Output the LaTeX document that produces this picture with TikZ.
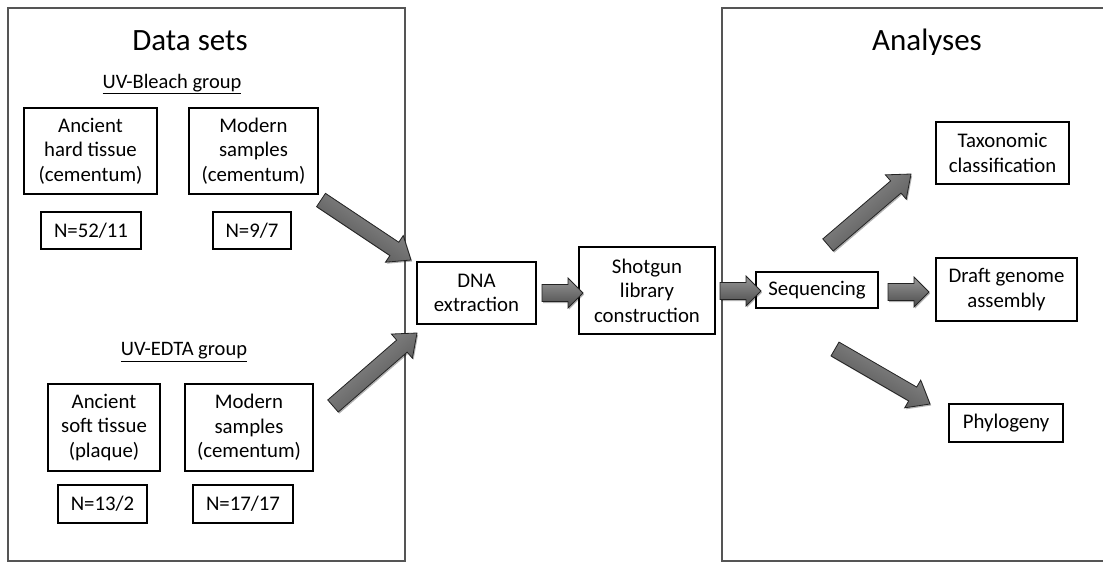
\documentclass[tikz,border=0pt]{standalone}
\usepackage{fontspec}
\setmainfont{Carlito}
\usetikzlibrary{calc,shadows}
\definecolor{arrlight}{RGB}{150,150,150}
\definecolor{arrdark}{RGB}{75,75,75}
\definecolor{arrline}{RGB}{35,35,35}
\definecolor{panelline}{RGB}{85,85,85}
\tikzset{
  box/.style={draw=black, line width=1.1pt, fill=white, inner sep=0pt, align=center,
    font=\fontsize{20.8}{24.5}\selectfont},
  title/.style={inner sep=0pt, font=\fontsize{31}{36}\selectfont},
  grouplabel/.style={inner sep=0pt, font=\fontsize{20.5}{24}\selectfont},
  panel/.style={draw=panelline, line width=1.6pt},
  blockarr/.style={draw=arrline, line width=0.8pt, line join=miter,
    top color=arrlight, bottom color=arrdark, shading angle=#1,
    drop shadow={opacity=0.3, shadow xshift=1.2pt, shadow yshift=-1.5pt, fill=black}}
}
% #1 tail, #2 tip, #3 shaft half width, #4 head half width, #5 head length, #6 name, #7 shading angle
\newcommand\blkarrow[7]{%
  \coordinate (#6h) at ($(#2)!#5!(#1)$);
  \path[blockarr=#7] ($(#1)!#3!90:(#2)$) -- ($(#6h)!#3!90:(#2)$) -- ($(#6h)!#4!90:(#2)$)
    -- (#2) -- ($(#6h)!#4!-90:(#2)$) -- ($(#6h)!#3!-90:(#2)$) -- ($(#1)!#3!-90:(#2)$) -- cycle;}
\begin{document}
\begin{tikzpicture}[x=1pt,y=-1pt]
\useasboundingbox (0,0) rectangle (1103,563);
\clip (0,0) rectangle (1103,563);
\fill[white] (0,0) rectangle (1103,563);
% panels
\draw[panel] (8,8) rectangle (405,561);
\draw[panel] (1110,8) -- (722,8) -- (722,561) -- (1110,561);
% titles
\node[title] (tds) at (190,41) {Data sets};
\node[title] (tan) at (927,42) {Analyses};
\node[grouplabel] (gbl) at (172,84) {\underline{UV-Bleach group}};
\node[grouplabel] (ged) at (184,352) {\underline{UV-EDTA group}};
% left boxes
\node[box, minimum width=133pt, minimum height=86pt] (ahard) at (90.5,151) {Ancient\\hard tissue\\(cementum)};
\node[box, minimum width=129pt, minimum height=86pt] (mod1) at (253.5,151) {Modern\\samples\\(cementum)};
\node[box, minimum width=100pt, minimum height=37pt] (n1) at (91,230.5) {N=52/11};
\node[box, minimum width=78pt, minimum height=37pt] (n2) at (252,230.5) {N=9/7};
\node[box, minimum width=112pt, minimum height=87pt] (asoft) at (104,427.5) {Ancient\\soft tissue\\(plaque)};
\node[box, minimum width=128pt, minimum height=87pt] (mod2) at (249,427.5) {Modern\\samples\\(cementum)};
\node[box, minimum width=89pt, minimum height=38pt] (n3) at (102.5,504) {N=13/2};
\node[box, minimum width=100pt, minimum height=38pt] (n4) at (243,504) {N=17/17};
% middle
\node[box, minimum width=119pt, minimum height=62pt] (dna) at (476.5,293) {DNA\\extraction};
\node[box, minimum width=136pt, minimum height=87pt] (shot) at (647,290.5) {Shotgun\\library\\construction};
% right
\node[box, minimum width=122pt, minimum height=36pt] (seq) at (817,290) {Sequencing};
\node[box, minimum width=133pt, minimum height=62pt] (tax) at (1002.5,153) {Taxonomic\\classification};
\node[box, minimum width=141pt, minimum height=63pt] (draft) at (1006.5,289.5) {Draft genome\\assembly};
\node[box, minimum width=114pt, minimum height=38pt] (phy) at (1006,423) {Phylogeny};
% arrow endpoints
\coordinate (a1s) at (321,200); \coordinate (a1e) at (411,260);
\coordinate (a2s) at (333,406); \coordinate (a2e) at (417,333);
\coordinate (a3s) at (542,293); \coordinate (a3e) at (583,293);
\coordinate (a4s) at (720,291); \coordinate (a4e) at (761,291);
\coordinate (a5s) at (888,292); \coordinate (a5e) at (929,292);
\coordinate (a6s) at (828,245); \coordinate (a6e) at (911,174);
\coordinate (a7s) at (835,349); \coordinate (a7e) at (930,404);
\blkarrow{a1s}{a1e}{8pt}{16pt}{20pt}{a1}{-33.7}
\blkarrow{a2s}{a2e}{8pt}{16pt}{20pt}{a2}{41}
\blkarrow{a3s}{a3e}{8.5pt}{15pt}{15pt}{a3}{0}
\blkarrow{a4s}{a4e}{8.5pt}{15pt}{15pt}{a4}{0}
\blkarrow{a5s}{a5e}{8.5pt}{15pt}{15pt}{a5}{0}
\blkarrow{a6s}{a6e}{8pt}{16pt}{20pt}{a6}{40.5}
\blkarrow{a7s}{a7e}{8pt}{16pt}{20pt}{a7}{-30}
\end{tikzpicture}
\end{document}
